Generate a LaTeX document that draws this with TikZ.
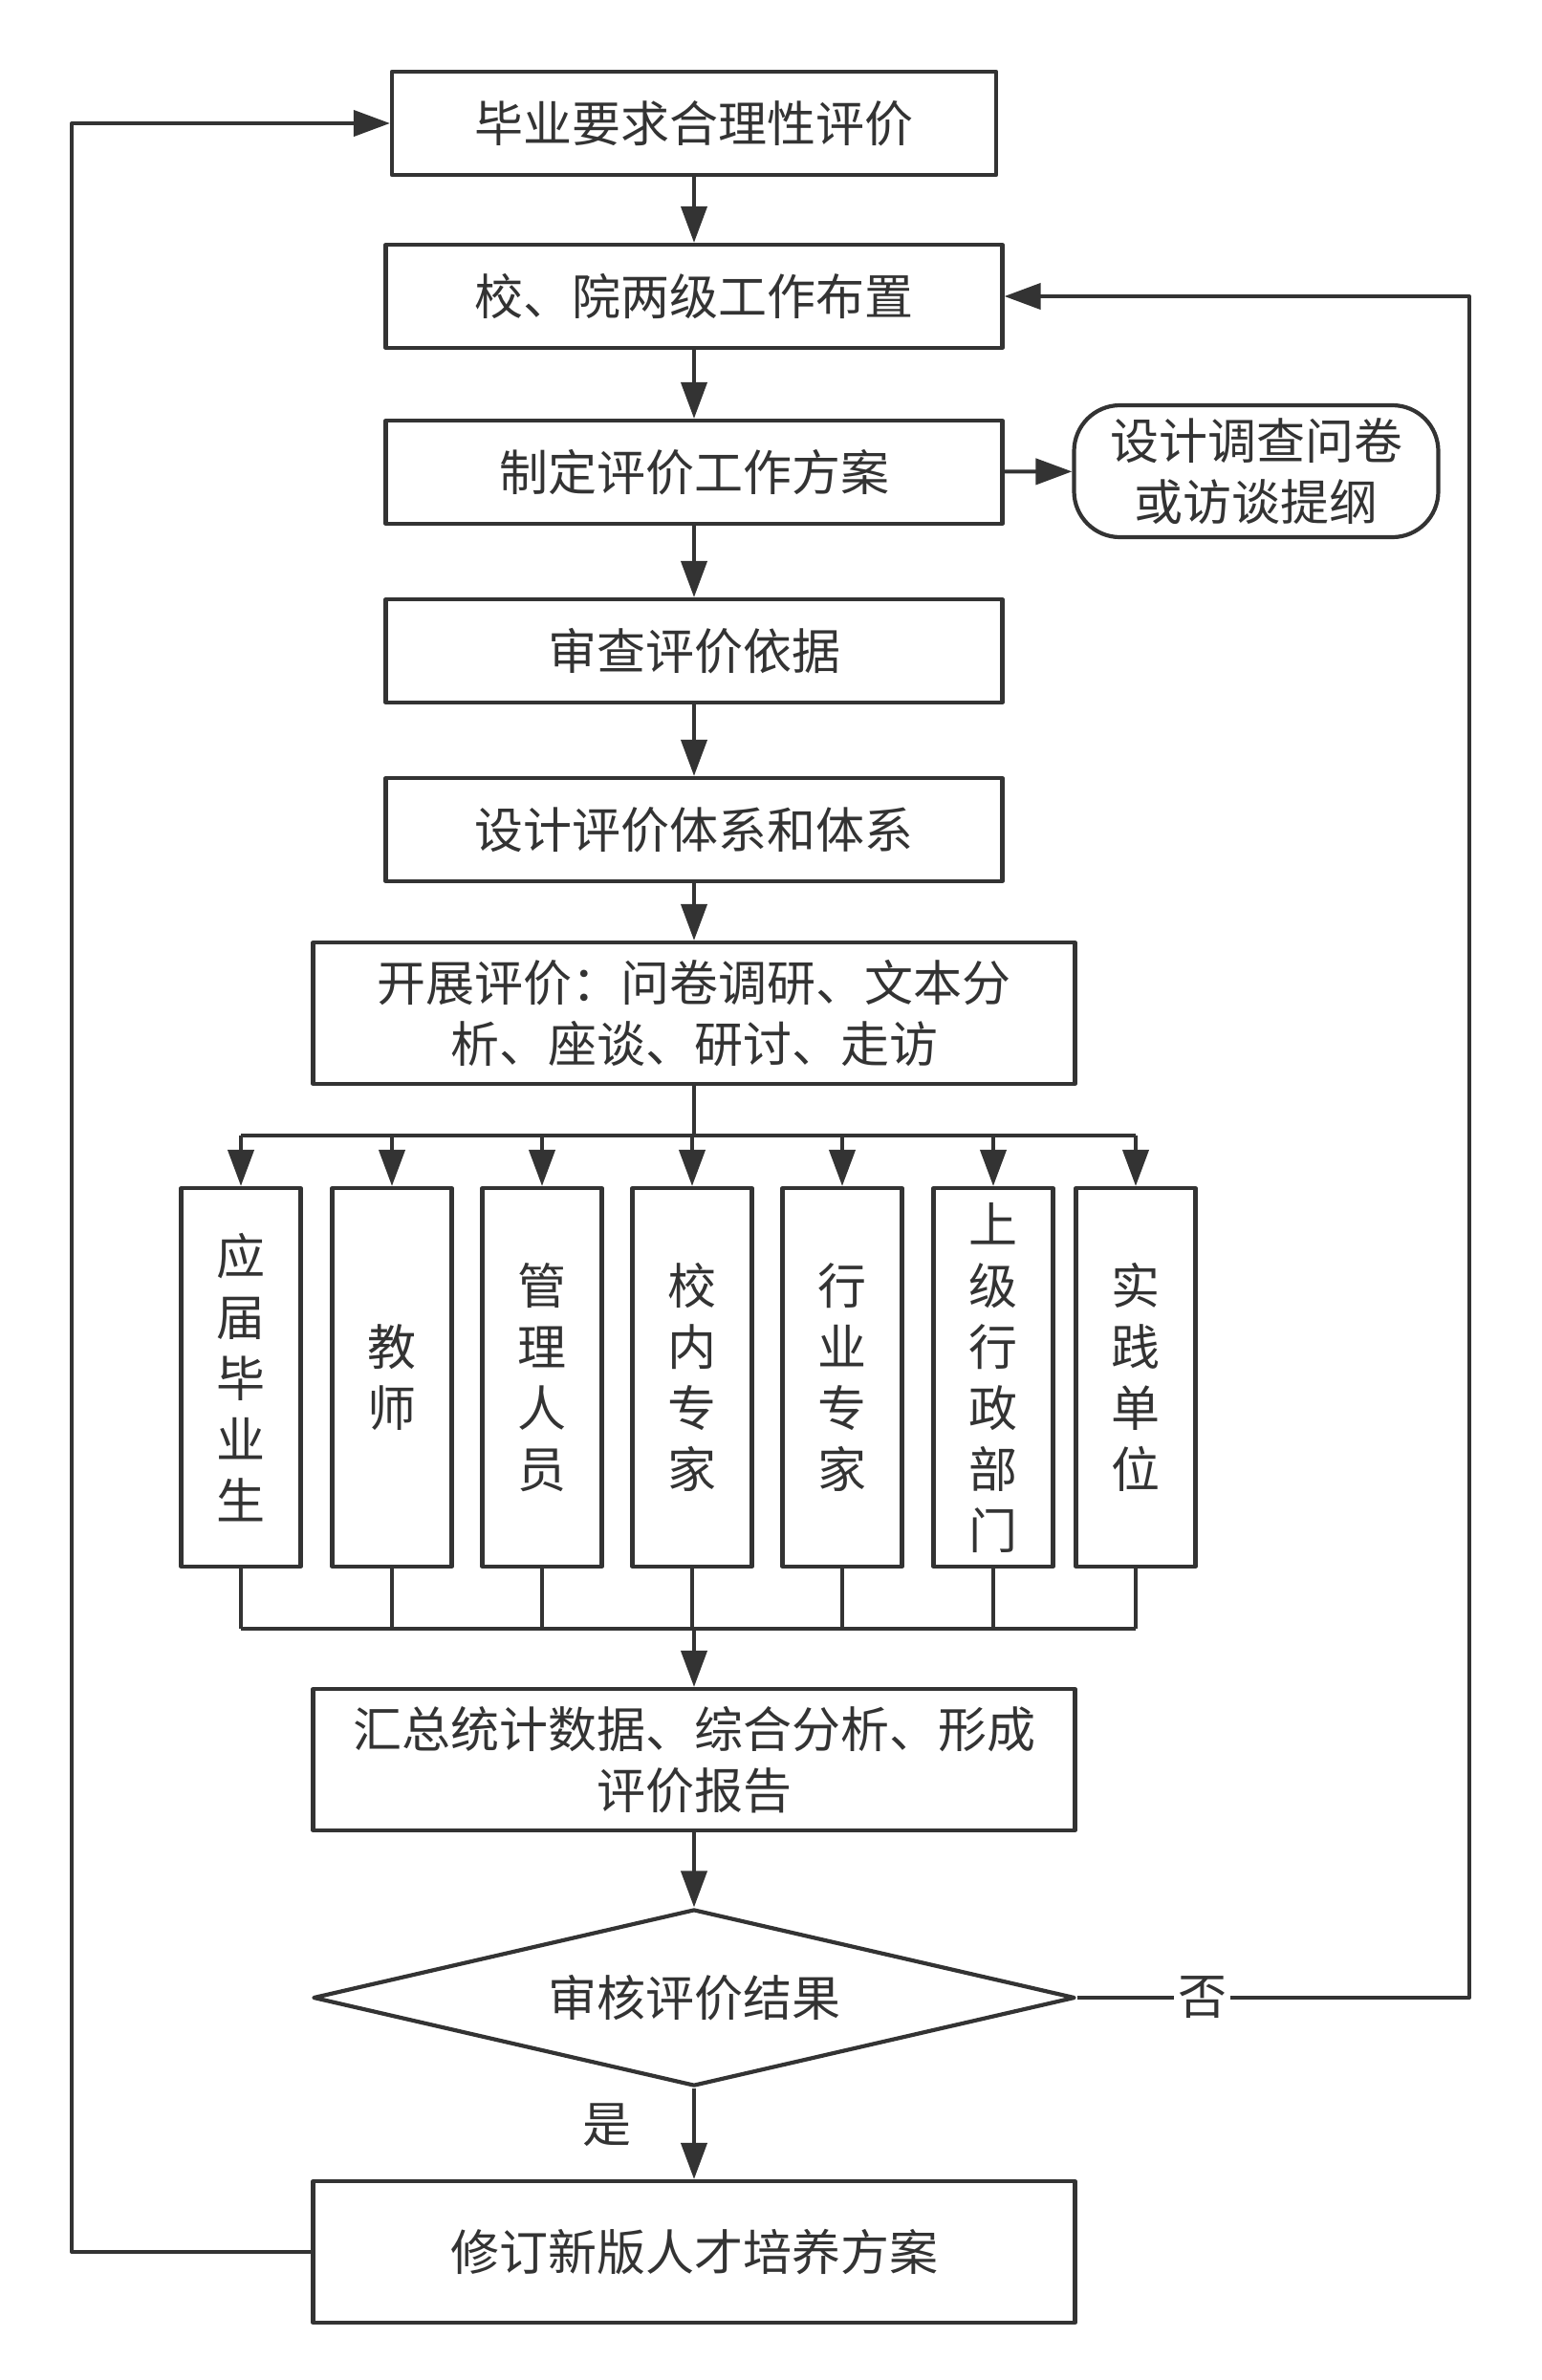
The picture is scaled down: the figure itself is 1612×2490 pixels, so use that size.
\documentclass[tikz,border=0pt]{standalone}
\usepackage{fontspec}
\setmainfont{Noto Sans CJK SC}
\usetikzlibrary{arrows.meta,shapes.geometric}
\definecolor{ink}{HTML}{333333}
\begin{document}
\begin{tikzpicture}[x=0.5pt,y=-0.5pt,>={Triangle[length=19pt,width=13.5pt]},line join=round,
  every node/.style={font=\fontsize{25.5}{32}\selectfont,text=ink},
  box/.style={draw=ink,line width=2.1pt,minimum width=322.5pt,minimum height=54pt,align=center,inner sep=0pt},
  tallbox/.style={box,minimum width=62.5pt,minimum height=198pt},
  widebox/.style={box,minimum width=398.5pt,minimum height=74pt},
  roundbox/.style={box,minimum width=190.5pt,minimum height=69pt,rounded corners=24pt},
  dia/.style={diamond,draw=ink,line width=2.1pt,aspect=4.3,minimum width=398.5pt,minimum height=92.5pt,inner sep=0pt},
  link/.style={draw=ink,line width=2pt}]
\useasboundingbox (0,0) rectangle (1612,2490);
% main column
\node[box,minimum width=316pt] (b1) at (726,129) {毕业要求合理性评价};
\node[box] (b2) at (726,310) {校、院两级工作布置};
\node[box] (b3) at (726,494) {制定评价工作方案};
\node[roundbox] (q) at (1314,493) {设计调查问卷\\或访谈提纲};
\node[box] (b4) at (726,681) {审查评价依据};
\node[box] (b5) at (726,868) {设计评价体系和体系};
\node[widebox] (b6) at (726,1060) {开展评价：问卷调研、文本分\\析、座谈、研讨、走访};
\coordinate (split) at (726,1188);
\coordinate (merge) at (726,1704);
\foreach \n/\x/\t in {1/252/{应\\届\\毕\\业\\生},2/410/{教\\师},3/567/{管\\理\\人\\员},
  4/724/{校\\内\\专\\家},5/881/{行\\业\\专\\家},6/1039/{上\\级\\行\\政\\部\\门},7/1188/{实\\践\\单\\位}}{
  \node[tallbox] (v\n) at (\x,1441) {\t};
  \draw[link,->] (split -| v\n) -- (v\n);
  \draw[link] (v\n) -- (merge -| v\n);
}
\node[widebox] (b7) at (726,1841) {汇总统计数据、综合分析、形成\\评价报告};
\node[dia] (d) at (726,2090) {审核评价结果};
\node[widebox] (b8) at (726,2356) {修订新版人才培养方案};
\coordinate (rr) at (1537,0);
\coordinate (ll) at (75,0);
% connectors
\draw[link,->] (b1) -- (b2);
\draw[link,->] (b2) -- (b3);
\draw[link,->] (b3) -- (q);
\draw[link,->] (b3) -- (b4);
\draw[link,->] (b4) -- (b5);
\draw[link,->] (b5) -- (b6);
\draw[link] (b6) -- (split);
\draw[link] (split -| v1) -- (split -| v7);
\draw[link] (merge -| v1) -- (merge -| v7);
\draw[link,->] (merge) -- (b7);
\draw[link,->] (b7) -- (d);
\draw[link,->] (d) -- (b8);
\node (yes) at (635,2223) {是};
\draw[link,->] (d.east) -- node[fill=white,inner sep=2pt,pos=.32]{否} (d.east -| rr) |- (b2.east);
\draw[link,->] (b8.west) -- (b8.west -| ll) |- (b1.west);
\end{tikzpicture}
\end{document}
